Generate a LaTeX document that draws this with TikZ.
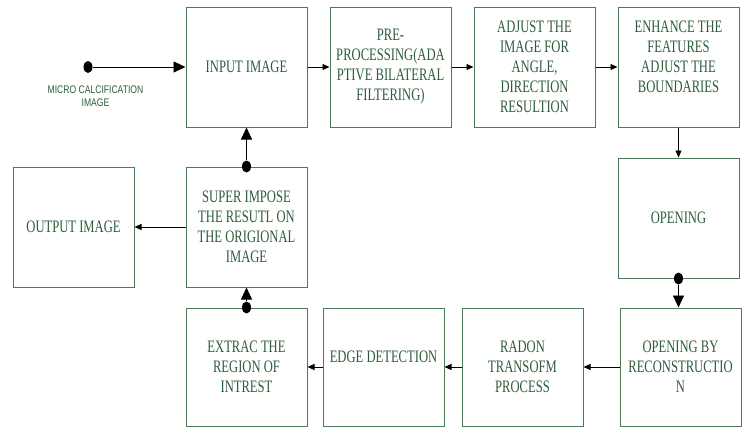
\documentclass[tikz,border=0pt]{standalone}
\usepackage{fontspec}
\newfontfamily\boxfont[FakeStretch=0.72]{Liberation Serif}
\newfontfamily\tagfont[FakeStretch=0.78]{Liberation Sans}
\usepackage{tikz}
\usetikzlibrary{arrows.meta,positioning,shapes.geometric}
\definecolor{boxline}{HTML}{4A7A58}
\definecolor{boxtext}{HTML}{2E5C3C}

\begin{document}
\begin{tikzpicture}[x=1pt,y=-1pt,
    box/.style={draw=boxline,line width=1pt,minimum width=121pt,minimum height=120pt,
      inner sep=0pt,align=center,text=boxtext,font=\boxfont\fontsize{17.5}{20}\selectfont},
    lowbox/.style={box,minimum height=118pt},
    blob/.style={ellipse,fill=black,minimum width=9pt,minimum height=12pt,inner sep=0pt},
    tag/.style={align=center,text=boxtext,inner sep=0pt,font=\tagfont\fontsize{11}{13}\selectfont},
    small/.style={-{Triangle[length=7pt,width=6pt]},line width=0.9pt},
    big/.style={-{Triangle[length=12pt,width=11pt]},line width=0.9pt}]
  \useasboundingbox (0,0) rectangle (744,426);

  \node[box]    (input)    at (246.5,67)             {INPUT IMAGE};
  \node[box]    (pre)      [right=22pt of input]     {PRE-\\PROCESSING(ADA\\PTIVE BILATERAL\\FILTERING)};
  \node[box]    (adjust)   [right=22pt of pre]       {ADJUST THE\\IMAGE FOR\\ANGLE,\\DIRECTION\\RESULTION};
  \node[box]    (enhance)  [right=22pt of adjust]    {ENHANCE THE\\FEATURES\\ADJUST THE\\BOUNDARIES\\~};
  \node[box]    (opening)  [below=30pt of enhance]   {OPENING};
  \node[box]    (super)    [below=39pt of input]     {SUPER IMPOSE\\THE RESUTL ON\\THE ORIGIONAL\\IMAGE};
  \node[box]    (output)   [left=51pt of super]      {OUTPUT IMAGE};
  \node[lowbox] (extract)  [below=20pt of super]     {EXTRAC THE\\REGION OF\\INTREST};
  \node[lowbox] (edge)     [right=15pt of extract]   {EDGE DETECTION\\~};
  \node[lowbox] (radon)    [right=17pt of edge]      {RADON\\TRANSOFM\\PROCESS};
  \node[lowbox] (recon)    [right=36pt of radon]     {OPENING BY\\RECONSTRUCTIO\\N};

  \node[blob] (srcdot) at (88,67) {};
  \node[tag]  (srclabel) at (95.5,96.5) {MICRO CALCIFICATION\\IMAGE};
  \node[blob] (odot) at (opening.south) {};
  \node[blob] (xdot) at (extract.north) {};
  \node[blob] (sdot) at (super.north) {};

  \draw[big]   (srcdot) -- (input);
  \draw[small] (input) -- (pre);
  \draw[small] (pre) -- (adjust);
  \draw[small] (adjust) -- (enhance);
  \draw[small] (enhance) -- (opening);
  \draw[big]   (odot) -- (odot |- recon.north);
  \draw[small] (recon) -- (radon);
  \draw[small] (radon) -- (edge);
  \draw[small] (edge) -- (extract);
  \draw[big]   (xdot) -- (super);
  \draw[big]   (sdot) -- (input);
  \draw[small] (super) -- (output);
\end{tikzpicture}
\end{document}
